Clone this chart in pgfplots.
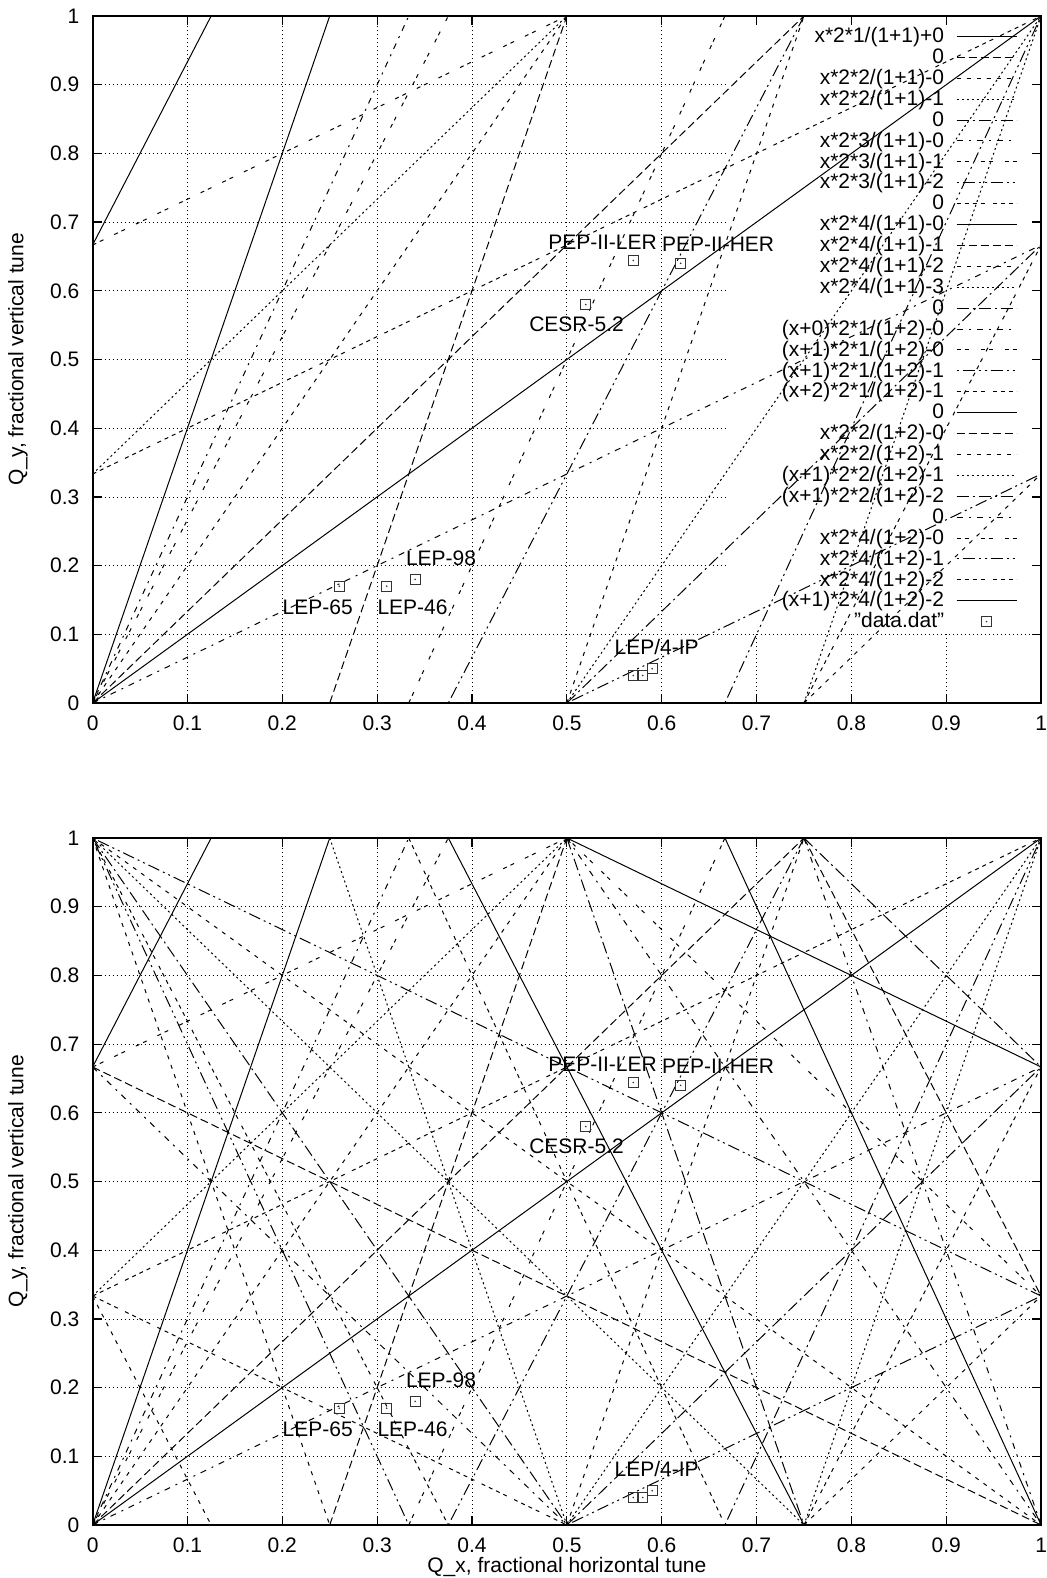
\documentclass[border=0pt]{standalone}
\usepackage{fontspec}
\setmainfont{Liberation Sans}
\usepackage{pgfplots}
\pgfplotsset{compat=1.18}

\pgfdeclareplotmark{sqdot}{%
  \pgfpathrectangle{\pgfqpoint{-\pgfplotmarksize}{-\pgfplotmarksize}}{\pgfqpoint{2\pgfplotmarksize}{2\pgfplotmarksize}}%
  \pgfusepathqstroke
  \pgfpathcircle{\pgfpointorigin}{0.45pt}%
  \pgfusepathqfill}

\tikzset{
  gridst/.style={black, line width=0.4pt, dash pattern=on 0.6pt off 1.4pt},
  lab/.style={anchor=west, inner sep=0pt},
}

\pgfplotsset{
  rl/.style={black, line width=0.5pt},
  ls1/.style={rl, solid},
  ls2/.style={rl, dash pattern=on 4pt off 2pt},
  ls3/.style={rl, dash pattern=on 2pt off 3pt},
  ls4/.style={rl, dash pattern=on 1pt off 1.5pt},
  ls5/.style={rl, dash pattern=on 6pt off 2pt on 1pt off 2pt},
  ls6/.style={rl, dash pattern=on 3pt off 3pt on 1pt off 3pt},
  ls7/.style={rl, dash pattern=on 2pt off 2pt on 2pt off 6pt},
  ls8/.style={rl, dash pattern=on 1pt off 2pt on 6pt off 2pt on 1pt off 2pt},
  ls9/.style={rl, dash pattern=on 2pt off 2pt on 2pt off 2pt on 2pt off 2pt on 2pt off 4pt},
  tune/.style={
    scale only axis, width=474.25pt, height=343.5pt,
    xmin=0, xmax=1, ymin=0, ymax=1,
    xtick={0,0.1,0.2,0.3,0.4,0.5,0.6,0.7,0.8,0.9,1},
    ytick={0,0.1,0.2,0.3,0.4,0.5,0.6,0.7,0.8,0.9,1},
    xticklabels={0,0.1,0.2,0.3,0.4,0.5,0.6,0.7,0.8,0.9,1},
    yticklabels={0,0.1,0.2,0.3,0.4,0.5,0.6,0.7,0.8,0.9,1},
    tick align=inside, tick pos=both,
    major tick length=4.5pt,
    tick style={black, line width=0.6pt},
    axis line style={black, line width=1pt},
    xticklabel style={inner sep=1pt},
    xticklabel shift=5.3pt, yticklabel shift=3.1pt,
    font=\fontsize{10.5}{12.6}\selectfont,
    ylabel={Q\_y, fractional vertical tune},
    every axis y label/.style={at={(axis description cs:-0.0787,0.5)}, rotate=90, anchor=center},
    every axis x label/.style={at={(axis description cs:0.5,0)}, anchor=center, inner sep=0pt, yshift=-20.8pt},
    clip=true,
  }
}

\newcommand\origlines{%
  \addplot[ls1] coordinates {(0,0) (1,1)}; \myle{x*2*1/(1+1)+0}
  \addplot[ls2] coordinates {(0,0) (1,0)}; \myle{0}
  \addplot[ls3] coordinates {(0,0) (0.5,1)}; \myle{x*2*2/(1+1)-0}
  \addplot[ls4] coordinates {(0.5,0) (1,1)}; \myle{x*2*2/(1+1)-1}
  \addplot[ls5] coordinates {(0,0) (1,0)}; \myle{0}
  \addplot[ls6] coordinates {(0,0) (0.333333,1)}; \myle{x*2*3/(1+1)-0}
  \addplot[ls7] coordinates {(0.333333,0) (0.666667,1)}; \myle{x*2*3/(1+1)-1}
  \addplot[ls8] coordinates {(0.666667,0) (1,1)}; \myle{x*2*3/(1+1)-2}
  \addplot[ls9] coordinates {(0,0) (1,0)}; \myle{0}
  \addplot[ls1] coordinates {(0,0) (0.25,1)}; \myle{x*2*4/(1+1)-0}
  \addplot[ls2] coordinates {(0.25,0) (0.5,1)}; \myle{x*2*4/(1+1)-1}
  \addplot[ls3] coordinates {(0.5,0) (0.75,1)}; \myle{x*2*4/(1+1)-2}
  \addplot[ls4] coordinates {(0.75,0) (1,1)}; \myle{x*2*4/(1+1)-3}
  \addplot[ls5] coordinates {(0,0) (1,0)}; \myle{0}
  \addplot[ls6] coordinates {(0,0) (1,0.666667)}; \myle{(x+0)*2*1/(1+2)-0}
  \addplot[ls7] coordinates {(0,0.666667) (0.5,1)}; \myle{(x+1)*2*1/(1+2)-0}
  \addplot[ls8] coordinates {(0.5,0) (1,0.333333)}; \myle{(x+1)*2*1/(1+2)-1}
  \addplot[ls9] coordinates {(0,0.333333) (1,1)}; \myle{(x+2)*2*1/(1+2)-1}
  \addplot[ls1] coordinates {(0,0) (1,0)}; \myle{0}
  \addplot[ls2] coordinates {(0,0) (0.75,1)}; \myle{x*2*2/(1+2)-0}
  \addplot[ls3] coordinates {(0.75,0) (1,0.333333)}; \myle{x*2*2/(1+2)-1}
  \addplot[ls4] coordinates {(0,0.333333) (0.5,1)}; \myle{(x+1)*2*2/(1+2)-1}
  \addplot[ls5] coordinates {(0.5,0) (1,0.666667)}; \myle{(x+1)*2*2/(1+2)-2}
  \addplot[ls6] coordinates {(0,0) (1,0)}; \myle{0}
  \addplot[ls7] coordinates {(0,0) (0.375,1)}; \myle{x*2*4/(1+2)-0}
  \addplot[ls8] coordinates {(0.375,0) (0.75,1)}; \myle{x*2*4/(1+2)-1}
  \addplot[ls9] coordinates {(0.75,0) (1,0.666667)}; \myle{x*2*4/(1+2)-2}
  \addplot[ls1] coordinates {(0,0.666667) (0.125,1)}; \myle{(x+1)*2*4/(1+2)-2}
}

\newcommand\mirrorlines{%
  \addplot[ls3] coordinates {(0,1) (1,0)};
  \addplot[ls5] coordinates {(0,1) (0.5,0)};
  \addplot[ls6] coordinates {(0.5,1) (1,0)};
  \addplot[ls8] coordinates {(0,1) (0.333333,0)};
  \addplot[ls9] coordinates {(0.333333,1) (0.666667,0)};
  \addplot[ls1] coordinates {(0.666667,1) (1,0)};
  \addplot[ls3] coordinates {(0,1) (0.25,0)};
  \addplot[ls4] coordinates {(0.25,1) (0.5,0)};
  \addplot[ls5] coordinates {(0.5,1) (0.75,0)};
  \addplot[ls6] coordinates {(0.75,1) (1,0)};
  \addplot[ls8] coordinates {(0,1) (1,0.333333)};
  \addplot[ls9] coordinates {(0,0.333333) (0.5,0)};
  \addplot[ls1] coordinates {(0.5,1) (1,0.666667)};
  \addplot[ls2] coordinates {(0,0.666667) (1,0)};
  \addplot[ls4] coordinates {(0,1) (0.75,0)};
  \addplot[ls5] coordinates {(0.75,1) (1,0.666667)};
  \addplot[ls6] coordinates {(0,0.666667) (0.5,0)};
  \addplot[ls7] coordinates {(0.5,1) (1,0.333333)};
  \addplot[ls9] coordinates {(0,1) (0.375,0)};
  \addplot[ls1] coordinates {(0.375,1) (0.75,0)};
  \addplot[ls2] coordinates {(0.75,1) (1,0.333333)};
  \addplot[ls3] coordinates {(0,0.333333) (0.125,0)};
}

\newcommand\datapoints{%
  \addplot[only marks, mark=sqdot, mark size=2.5pt, mark options={solid, black!80, line width=0.5pt}]
    coordinates {(0.26,0.17) (0.31,0.17) (0.34,0.18) (0.52,0.58) (0.57,0.644) (0.62,0.64) (0.57,0.04) (0.58,0.04) (0.59,0.05)};
  \myle{"data.dat"}
}

\newcommand\tunelabels{%
  \node[lab] at (axis cs:0.48,0.67) {PEP-II-LER};
  \node[lab] at (axis cs:0.60,0.668) {PEP-II-HER};
  \node[lab] at (axis cs:0.46,0.552) {CESR-5.2};
  \node[lab] at (axis cs:0.33,0.211) {LEP-98};
  \node[lab] at (axis cs:0.20,0.139) {LEP-65};
  \node[lab] at (axis cs:0.30,0.139) {LEP-46};
  \node[lab] at (axis cs:0.55,0.082) {LEP/4-IP};
}

\begin{document}
\begin{tikzpicture}
\def\myle#1{\addlegendentry{#1}}
\begin{axis}[tune, at={(0,0)}, anchor=north west,
  legend cell align=right, legend plot pos=right,
  legend image code/.code={\draw[mark repeat=2,mark phase=2,#1] plot coordinates {(0pt,0pt) (15pt,0pt) (30pt,0pt)};},
  legend style={draw=none, fill=none, at={(rel axis cs:1,1)}, anchor=north east,
    xshift=-12pt, yshift=-5pt, inner sep=0pt, outer sep=0pt, row sep=0pt, column sep=6pt,
    nodes={inner sep=0pt, text height=8.3pt, text depth=2.15pt},
    font=\fontsize{10.5}{12.6}\selectfont},
]
  \draw[gridst] (axis cs:0,0.1) -- (axis cs:1,0.1);
  \draw[gridst] (axis cs:0,0.2) -- (axis cs:0.67,0.2);
  \draw[gridst] (axis cs:0,0.3) -- (axis cs:0.67,0.3);
  \draw[gridst] (axis cs:0,0.4) -- (axis cs:0.67,0.4);
  \draw[gridst] (axis cs:0,0.5) -- (axis cs:0.67,0.5);
  \draw[gridst] (axis cs:0,0.6) -- (axis cs:0.67,0.6);
  \draw[gridst] (axis cs:0,0.7) -- (axis cs:0.67,0.7);
  \draw[gridst] (axis cs:0,0.8) -- (axis cs:0.67,0.8);
  \draw[gridst] (axis cs:0,0.9) -- (axis cs:0.67,0.9);
  \draw[gridst] (axis cs:0.1,0) -- (axis cs:0.1,1);
  \draw[gridst] (axis cs:0.2,0) -- (axis cs:0.2,1);
  \draw[gridst] (axis cs:0.3,0) -- (axis cs:0.3,1);
  \draw[gridst] (axis cs:0.4,0) -- (axis cs:0.4,1);
  \draw[gridst] (axis cs:0.5,0) -- (axis cs:0.5,1);
  \draw[gridst] (axis cs:0.6,0) -- (axis cs:0.6,1);
  \draw[gridst] (axis cs:0.7,0) -- (axis cs:0.7,0.1);
  \draw[gridst] (axis cs:0.8,0) -- (axis cs:0.8,0.1);
  \draw[gridst] (axis cs:0.9,0) -- (axis cs:0.9,0.1);
  \origlines
  \datapoints
  \tunelabels
\end{axis}
\def\myle#1{}
\begin{axis}[tune, at={(0,-411pt)}, anchor=north west,
  xlabel={Q\_x, fractional horizontal tune}]
  \draw[gridst] (axis cs:0,0.1) -- (axis cs:1,0.1);
  \draw[gridst] (axis cs:0,0.2) -- (axis cs:1,0.2);
  \draw[gridst] (axis cs:0,0.3) -- (axis cs:1,0.3);
  \draw[gridst] (axis cs:0,0.4) -- (axis cs:1,0.4);
  \draw[gridst] (axis cs:0,0.5) -- (axis cs:1,0.5);
  \draw[gridst] (axis cs:0,0.6) -- (axis cs:1,0.6);
  \draw[gridst] (axis cs:0,0.7) -- (axis cs:1,0.7);
  \draw[gridst] (axis cs:0,0.8) -- (axis cs:1,0.8);
  \draw[gridst] (axis cs:0,0.9) -- (axis cs:1,0.9);
  \draw[gridst] (axis cs:0.1,0) -- (axis cs:0.1,1);
  \draw[gridst] (axis cs:0.2,0) -- (axis cs:0.2,1);
  \draw[gridst] (axis cs:0.3,0) -- (axis cs:0.3,1);
  \draw[gridst] (axis cs:0.4,0) -- (axis cs:0.4,1);
  \draw[gridst] (axis cs:0.5,0) -- (axis cs:0.5,1);
  \draw[gridst] (axis cs:0.6,0) -- (axis cs:0.6,1);
  \draw[gridst] (axis cs:0.7,0) -- (axis cs:0.7,1);
  \draw[gridst] (axis cs:0.8,0) -- (axis cs:0.8,1);
  \draw[gridst] (axis cs:0.9,0) -- (axis cs:0.9,1);
  \origlines
  \mirrorlines
  \datapoints
  \tunelabels
\end{axis}
\pgfresetboundingbox
\path[use as bounding box] (-46.3pt,8pt) rectangle (477.2pt,-781pt);
\end{tikzpicture}
\end{document}
